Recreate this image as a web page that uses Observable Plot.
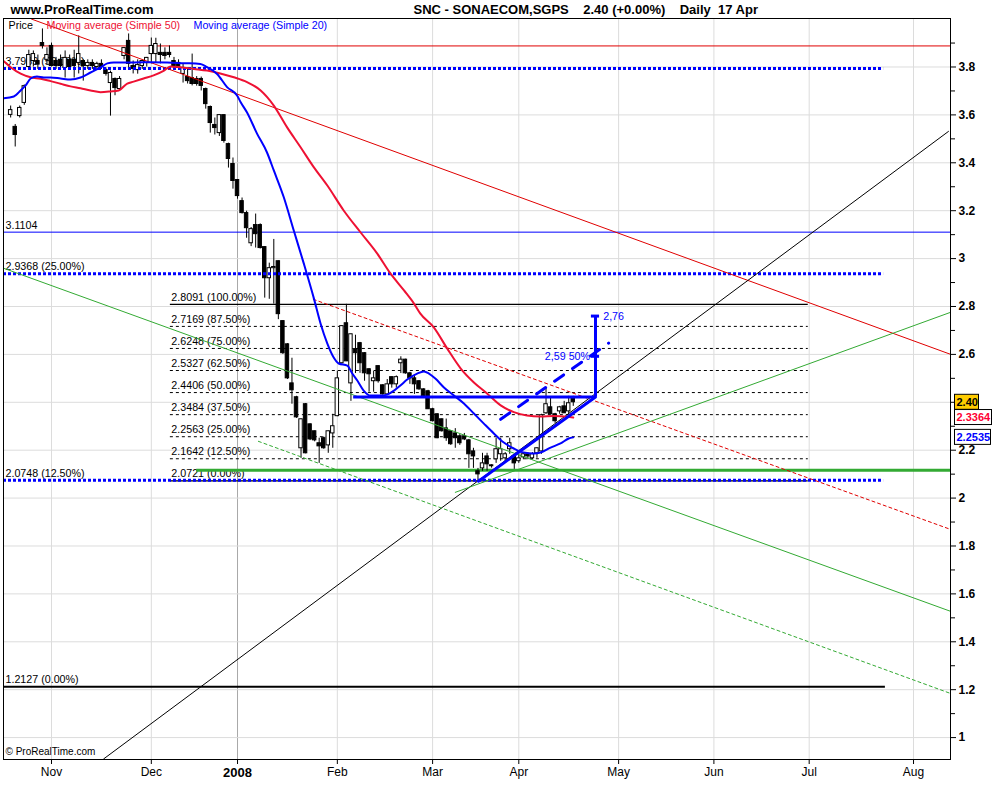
<!DOCTYPE html>
<html><head><meta charset="utf-8">
<script src="https://cdn.jsdelivr.net/npm/d3@7"></script>
<script src="https://cdn.jsdelivr.net/npm/@observablehq/plot@0.6"></script>
<style>html,body{margin:0;padding:0;background:#fff;overflow:hidden}#chart svg{display:block}</style>
</head><body><div id="chart"></div>
<script>
// x = trading-day index (0 = 1 Nov 2007)
const monthTickIdx = [0, 22, 41, 63, 84, 103, 125, 146, 167, 190];
const monthTickLabels = ["Nov", "Dec", "2008", "Feb", "Mar", "Apr", "May", "Jun", "Jul", "Aug"];
const priceTicks = [1, 1.2, 1.4, 1.6, 1.8, 2, 2.2, 2.4, 2.6, 2.8, 3, 3.2, 3.4, 3.6, 3.8];
const priceTickLabels = ["1", "1.2", "1.4", "1.6", "1.8", "2", "2.2", "", "2.6", "2.8", "3", "3.2", "3.4", "3.6", "3.8"];
const priceMinorTicks = [1.1, 1.3, 1.5, 1.7, 1.9, 2.1, 2.3, 2.5, 2.7, 2.9, 3.1, 3.3, 3.5, 3.7, 3.9];

// [day index, open, high, low, close]
const candles = [
[-9,3.600,3.637,3.587,3.620],[-8,3.550,3.560,3.466,3.516],[-7,3.595,3.637,3.587,3.629],
[-6,3.650,3.725,3.640,3.720],[-5,3.800,3.870,3.790,3.850],[-4,3.825,3.867,3.800,3.854],
[-3,3.825,3.850,3.790,3.810],[-2,3.900,3.959,3.875,3.888],[-1,3.830,3.880,3.810,3.850],
[0,3.888,3.900,3.800,3.804],[1,3.825,3.840,3.790,3.804],[2,3.830,3.850,3.795,3.804],
[3,3.796,3.867,3.754,3.838],[4,3.830,3.850,3.790,3.800],[5,3.830,3.870,3.754,3.804],
[6,3.817,3.930,3.771,3.854],[7,3.825,3.830,3.741,3.804],[8,3.804,3.830,3.790,3.817],
[9,3.817,3.830,3.790,3.804],[10,3.800,3.820,3.790,3.813],[11,3.813,3.830,3.790,3.800],
[12,3.787,3.796,3.762,3.771],[13,3.733,3.783,3.595,3.775],[14,3.750,3.754,3.680,3.712],
[15,3.708,3.760,3.700,3.750],[16,3.846,3.880,3.830,3.879],[17,3.909,3.938,3.792,3.813],
[18,3.804,3.825,3.771,3.792],[19,3.787,3.830,3.770,3.808],[20,3.804,3.830,3.790,3.825],
[21,3.817,3.840,3.800,3.838],[22,3.854,3.921,3.813,3.888],[23,3.854,3.920,3.817,3.896],
[24,3.859,3.896,3.813,3.850],[25,3.859,3.880,3.830,3.846],[26,3.859,3.888,3.838,3.850],
[27,3.825,3.840,3.800,3.804],[28,3.817,3.830,3.790,3.796],[29,3.771,3.813,3.733,3.796],
[30,3.758,3.796,3.729,3.741],[31,3.754,3.854,3.721,3.729],[32,3.750,3.760,3.720,3.729],
[33,3.750,3.758,3.700,3.721],[34,3.708,3.712,3.624,3.645],[35,3.633,3.637,3.524,3.566],
[36,3.558,3.587,3.516,3.545],[37,3.524,3.600,3.510,3.599],[38,3.599,3.600,3.482,3.491],
[39,3.478,3.482,3.378,3.416],[40,3.395,3.420,3.290,3.324],[41,3.328,3.328,3.248,3.261],
[42,3.240,3.253,3.186,3.190],[43,3.190,3.198,3.085,3.127],[44,3.064,3.130,3.050,3.123],
[45,3.140,3.186,3.044,3.102],[46,3.140,3.145,3.040,3.044],[47,3.048,3.050,2.835,2.918],
[48,2.918,2.981,2.830,2.960],[49,2.960,3.080,2.810,2.965],[50,2.989,2.990,2.745,2.768],
[51,2.739,2.740,2.600,2.605],[52,2.642,2.645,2.495,2.500],[53,2.479,2.584,2.392,2.450],
[54,2.421,2.425,2.333,2.337],[55,2.208,2.330,2.166,2.329],[56,2.392,2.395,2.185,2.187],
[57,2.308,2.310,2.240,2.245],[58,2.279,2.280,2.235,2.241],[59,2.229,2.250,2.145,2.216],
[60,2.250,2.255,2.204,2.208],[61,2.220,2.280,2.187,2.279],[62,2.270,2.350,2.208,2.300],
[63,2.342,2.530,2.340,2.500],[64,2.563,2.720,2.560,2.718],[65,2.730,2.8091,2.570,2.571],
[66,2.479,2.684,2.404,2.684],[67,2.622,2.680,2.520,2.605],[68,2.647,2.650,2.521,2.563],
[69,2.605,2.607,2.488,2.521],[70,2.538,2.540,2.442,2.517],[71,2.488,2.530,2.442,2.500],
[72,2.551,2.552,2.480,2.488],[73,2.471,2.473,2.430,2.433],[74,2.433,2.495,2.430,2.475],
[75,2.505,2.505,2.459,2.475],[76,2.475,2.510,2.459,2.505],[77,2.563,2.590,2.520,2.578],
[78,2.578,2.580,2.517,2.521],[79,2.521,2.525,2.475,2.500],[80,2.500,2.515,2.433,2.475],
[81,2.488,2.490,2.450,2.454],[82,2.454,2.456,2.420,2.425],[83,2.446,2.450,2.370,2.371],
[84,2.371,2.375,2.318,2.321],[85,2.350,2.352,2.248,2.250],[86,2.329,2.330,2.276,2.279],
[87,2.291,2.330,2.237,2.250],[88,2.279,2.280,2.220,2.225],[89,2.270,2.290,2.208,2.250],
[90,2.258,2.265,2.220,2.229],[91,2.258,2.270,2.240,2.245],[92,2.241,2.245,2.124,2.183],
[93,2.195,2.208,2.124,2.174],[94,2.112,2.124,2.0721,2.099],[95,2.124,2.187,2.112,2.145],
[96,2.174,2.187,2.112,2.141],[97,2.133,2.140,2.125,2.137],[98,2.162,2.250,2.145,2.204],
[99,2.183,2.250,2.154,2.204],[100,2.166,2.190,2.150,2.183],[101,2.204,2.250,2.183,2.229],
[102,2.174,2.175,2.120,2.145],[103,2.154,2.183,2.145,2.166],[104,2.170,2.190,2.160,2.183],
[105,2.183,2.190,2.160,2.174],[106,2.166,2.190,2.160,2.183],[107,2.187,2.210,2.166,2.208],
[108,2.195,2.350,2.183,2.346],[109,2.354,2.459,2.350,2.392],[110,2.379,2.420,2.350,2.350],
[111,2.350,2.354,2.312,2.321],[112,2.362,2.383,2.350,2.379],[113,2.383,2.404,2.354,2.354],
[114,2.362,2.425,2.350,2.396],[115,2.421,2.425,2.383,2.400]
];

// moving averages: [day index, value]
const ma20 = [
[-10.5,3.670],[-8.3,3.677],[-6.8,3.702],[-5.7,3.723],[-4.6,3.752],[-3.2,3.760],[-1.7,3.756],
[-0.2,3.756],[2.0,3.752],[4.2,3.748],[6.4,3.756],[8.6,3.777],[10.8,3.798],[12.3,3.815],
[13.7,3.819],[18.1,3.819],[21.8,3.820],[25.5,3.819],[29.2,3.816],[32.8,3.813],[34.3,3.799],
[36.5,3.771],[38.7,3.716],[40.9,3.681],[41.7,3.653],[43.1,3.610],[45.3,3.522],[47.5,3.443],
[49.0,3.368],[51.2,3.256],[53.4,3.117],[55.6,2.980],[57.8,2.836],[59.3,2.729],[60.8,2.645],
[62.2,2.587],[63.3,2.562],[65.2,2.553],[66.3,2.520],[67.4,2.491],[68.8,2.449],[70.3,2.428],
[72.5,2.428],[74.0,2.432],[75.5,2.449],[76.9,2.470],[78.4,2.495],[80.6,2.520],[82.1,2.529],
[83.2,2.520],[84.6,2.499],[86.5,2.462],[88.7,2.428],[90.9,2.395],[93.1,2.353],[95.3,2.311],
[97.5,2.270],[99.7,2.232],[101.9,2.207],[104.1,2.190],[106.3,2.186],[107.8,2.190],[110.0,2.211],
[112.2,2.228],[114.0,2.249],[115.0,2.2535]
];
const ma50 = [
[-10.5,3.824],[-9.0,3.799],[-6.8,3.772],[-4.6,3.757],[-2.4,3.751],[-0.2,3.741],[2.0,3.730],
[4.2,3.719],[6.4,3.711],[8.6,3.702],[10.8,3.695],[13.0,3.698],[14.8,3.702],[16.7,3.731],
[18.1,3.739],[20.3,3.752],[22.5,3.765],[24.8,3.785],[26.2,3.802],[28.4,3.799],[31.4,3.792],
[34.3,3.785],[37.2,3.773],[40.2,3.757],[43.1,3.737],[46.1,3.702],[49.0,3.639],[51.9,3.549],
[54.9,3.465],[57.8,3.382],[60.8,3.305],[64.4,3.201],[68.1,3.110],[71.8,3.021],[74.7,2.938],
[77.7,2.867],[79.9,2.812],[81.3,2.770],[84.3,2.712],[87.2,2.625],[90.2,2.541],[93.1,2.483],
[96.0,2.437],[99.0,2.387],[101.9,2.359],[104.8,2.345],[107.8,2.341],[110.7,2.343],[113.7,2.340],
[115.0,2.3364]
];

// Fibonacci retracement
const fibLevels = [2.8091, 2.7169, 2.6248, 2.5327, 2.4406, 2.3484, 2.2563, 2.1642, 2.0721];
const fibLabels = ["2.8091 (100.00%)", "2.7169 (87.50%)", "2.6248 (75.00%)", "2.5327 (62.50%)", "2.4406 (50.00%)", "2.3484 (37.50%)", "2.2563 (25.00%)", "2.1642 (12.50%)", "2.0721 (0.00%)"];
const fibSpan = [26.2, 166.8];

// long-term levels on the left
const dottedLevels = [3.7939, 2.9368, 2.0748];
const dottedLabels = ["3.7939 (50.00%)", "2.9368 (25.00%)", "2.0748 (12.50%)"];
const blueLevel = [3.1104];
const blueLevelLabel = ["3.1104"];
const redLevel = [3.888];
const blackLevel = [1.2127];
const blackLevelLabel = ["1.2127 (0.00%)"];
const greenLevel = [2.116];

// trend lines [day index, price]
const redTrend = [[-4.4, 4.0], [198.2, 2.60]];
const redDashed = [[57.7, 2.830], [198.2, 1.869]];
const blackTrend = [[11.5, 0.911], [197.7, 3.531]];
const greenTrend = [[-10.6, 2.960], [198.2, 1.527]];
const greenDashed = [[45.6, 2.237], [198.2, 1.184]];
const greenRise = [[89.0, 2.024], [198.2, 2.776]];

// pattern projection
const neckline = [2.422];
const necklineSpan = [66.6, 119.9];
const wedgeLine = [[94.1, 2.0705], [119.9, 2.422]];
const targetIdx = [119.9];
const targetRange = [2.422, 2.76];
const targetMarks = [2.76, 2.592];
const targetLabels = ["2,76", "2,59 50%"];
const channelDash = [[99.0, 2.329], [122.8, 2.647]];

const lastValues = [2.40, 2.3364, 2.2535];
const lastLabels = ["2.40", "2.3364", "2.2535"];

const C = candles.map(([i, o, h, l, c]) => ({i, o, h, l, c}));
const up = C.filter(d => d.c >= d.o);
const down = C.filter(d => d.c < d.o);
const fib = fibLevels.map((v, k) => ({v, label: fibLabels[k], solid: k === 0 || k === fibLevels.length - 1}));
const dotted = dottedLevels.map((v, k) => ({v, label: dottedLabels[k]}));
const months = monthTickIdx.map((i, k) => ({i, label: monthTickLabels[k]}));
const tickLabelOf = new Map(priceTicks.map((t, k) => [t, priceTickLabels[k]]));

const BLUE = "#0000ff", RED = "#ee1133", GREEN = "#33aa33";
const FONT = "'Liberation Sans', Arial, sans-serif";
const NARROW = "'Liberation Sans Narrow', 'Liberation Sans', Arial, sans-serif";
const P = d => d[0], V = d => d[1];

const chart = Plot.plot({
  width: 1000, height: 800,
  marginLeft: 3, marginRight: 50, marginTop: 18, marginBottom: 41,
  x: {domain: [-10.58, 198.15], axis: null},
  y: {domain: [0.9085, 4.0025], axis: null},
  style: {fontFamily: FONT, fontSize: "11px", background: "#fff", overflow: "visible"},
  marks: [
    // grid
    Plot.ruleX(months.filter(d => d.label !== "2008"), {x: "i", stroke: "#dcdcdc"}),
    Plot.ruleX(months.filter(d => d.label === "2008"), {x: "i", stroke: "#a8a8a8"}),
    Plot.ruleY(priceTicks, {stroke: "#dcdcdc"}),
    // fib levels
    Plot.ruleY(fib.filter(d => !d.solid), {y: "v", x1: fibSpan[0], x2: fibSpan[1], stroke: "#000", strokeDasharray: "3,3"}),
    Plot.ruleY(fib.filter(d => d.solid), {y: "v", x1: fibSpan[0], x2: fibSpan[1], stroke: "#000", strokeWidth: 1.2}),
    Plot.text(fib, {x: fibSpan[0], y: "v", text: "label", textAnchor: "start", dx: 1, dy: -7, fill: "#000", fontSize: 10.7}),
    // left labels
    Plot.text(dotted, {y: "v", text: "label", frameAnchor: "left", textAnchor: "start", dx: 2, dy: -7, fill: "#000", fontSize: 10.7}),
    Plot.text(blueLevel, {y: d => d, text: blueLevelLabel, frameAnchor: "left", textAnchor: "start", dx: 2, dy: -7, fill: "#000", fontSize: 10.7}),
    Plot.text(blackLevel, {y: d => d, text: blackLevelLabel, frameAnchor: "left", textAnchor: "start", dx: 2, dy: -7, fill: "#000", fontSize: 10.7}),
    // horizontal levels
    Plot.ruleY(redLevel, {stroke: "#e00000", strokeWidth: 1}),
    Plot.ruleY(blueLevel, {stroke: BLUE, strokeWidth: 1}),
    Plot.ruleY(greenLevel, {x1: 32.0, x2: 198.15, stroke: GREEN, strokeWidth: 3}),
    Plot.ruleY(blackLevel, {x1: -10.58, x2: 183.8, stroke: "#000", strokeWidth: 2}),
    // candles
    Plot.ruleX(C, {x: "i", y1: "l", y2: "h", stroke: "#000", strokeWidth: 1}),
    Plot.rect(down, {x1: d => d.i - 0.38, x2: d => d.i + 0.38, y1: "o", y2: "c", fill: "#000", stroke: "#000"}),
    Plot.rect(up, {x1: d => d.i - 0.38, x2: d => d.i + 0.38, y1: "o", y2: "c", fill: "#fff", stroke: "#000"}),
    // dotted blue levels
    Plot.ruleY(dotted, {y: "v", x1: -10.58, x2: 183.4, stroke: BLUE, strokeWidth: 3, strokeDasharray: "3,2"}),
    // trend lines
    Plot.line(redTrend, {x: P, y: V, stroke: "#e00000", strokeWidth: 1, clip: true}),
    Plot.line(redDashed, {x: P, y: V, stroke: "#e00000", strokeWidth: 1, strokeDasharray: "3,3", clip: true}),
    Plot.line(blackTrend, {x: P, y: V, stroke: "#000", strokeWidth: 1, clip: true}),
    Plot.line(greenTrend, {x: P, y: V, stroke: GREEN, strokeWidth: 1, clip: true}),
    Plot.line(greenDashed, {x: P, y: V, stroke: GREEN, strokeWidth: 1, strokeDasharray: "3,3", clip: true}),
    Plot.line(greenRise, {x: P, y: V, stroke: GREEN, strokeWidth: 1, clip: true}),
    // moving averages
    Plot.line(ma50, {x: P, y: V, stroke: RED, strokeWidth: 2, curve: "monotone-x", clip: true}),
    Plot.line(ma20, {x: P, y: V, stroke: BLUE, strokeWidth: 2, curve: "monotone-x", clip: true}),
    // pattern drawing
    Plot.ruleY(neckline, {x1: necklineSpan[0], x2: necklineSpan[1], stroke: BLUE, strokeWidth: 3}),
    Plot.line(wedgeLine, {x: P, y: V, stroke: BLUE, strokeWidth: 3}),
    Plot.ruleX(targetIdx, {y1: targetRange[0], y2: targetRange[1], stroke: BLUE, strokeWidth: 3}),
    Plot.ruleY(targetMarks, {x1: 119.0, x2: 120.8, stroke: BLUE, strokeWidth: 3}),
    Plot.text([targetMarks[0]], {x: 121.6, y: d => d, text: [targetLabels[0]], textAnchor: "start", fill: BLUE, fontSize: 10.7}),
    Plot.text([targetMarks[1]], {x: 118.7, y: d => d, text: [targetLabels[1]], textAnchor: "end", fill: BLUE, fontSize: 10.7}),
    Plot.line(channelDash, {x: P, y: V, stroke: BLUE, strokeWidth: 3, strokeDasharray: "11,11"}),
    // frame & axes
    Plot.frame({stroke: "#000"}),
    Plot.axisY({anchor: "right", ticks: priceMinorTicks, tickSize: 4, tickFormat: () => "", label: null}),
    Plot.axisY({anchor: "right", ticks: priceTicks, tickSize: 5, tickPadding: 3, tickFormat: d => tickLabelOf.get(d) ?? "", fontWeight: "bold", fontSize: 12, label: null}),
    Plot.axisX({anchor: "bottom", ticks: monthTickIdx, tickSize: 5, tickFormat: () => "", label: null}),
    Plot.text(months.filter(d => d.label !== "2008"), {x: "i", text: "label", frameAnchor: "bottom", lineAnchor: "middle", dy: 13, fontSize: 12, fontFamily: NARROW, fill: "#000"}),
    Plot.text(months.filter(d => d.label === "2008"), {x: "i", text: "label", frameAnchor: "bottom", lineAnchor: "middle", dy: 13, fontSize: 13, fontWeight: "bold", fontFamily: NARROW, fill: "#000"}),
    // titles and legend
    Plot.text(["www.ProRealTime.com"], {text: d => d, frameAnchor: "top-left", lineAnchor: "middle", dx: 7, dy: -9, fontSize: 13, fontWeight: "bold", fill: "#000"}),
    Plot.text(["SNC - SONAECOM,SGPS\u00a0\u00a0\u00a0\u00a02.40 (+0.00%)\u00a0\u00a0\u00a0\u00a0Daily\u00a0\u00a017 Apr"], {text: d => d, frameAnchor: "top-left", lineAnchor: "middle", textAnchor: "start", dx: 410, dy: -9, fontSize: 13, fontWeight: "bold", fill: "#000"}),
    Plot.text(["Price"], {text: d => d, frameAnchor: "top-left", lineAnchor: "middle", dx: 5, dy: 7, fill: "#000", fontSize: 10.7}),
    Plot.text(["Moving average (Simple 50)"], {text: d => d, frameAnchor: "top-left", lineAnchor: "middle", dx: 43, dy: 7, fill: RED, fontSize: 10.7}),
    Plot.text(["Moving average (Simple 20)"], {text: d => d, frameAnchor: "top-left", lineAnchor: "middle", dx: 190, dy: 7, fill: BLUE, fontSize: 10.7}),
    Plot.text(["\u00a9 ProRealTime.com"], {text: d => d, frameAnchor: "bottom-left", lineAnchor: "middle", dx: 2, dy: -8, fill: "#000", fontSize: 10, fontFamily: NARROW})
  ]
});
document.getElementById("chart").appendChild(chart);

// last-value boxes on the right axis
const sy = chart.scale("y");
const boxStyle = [
  {fill: "#ffcc00", color: "#000", w: 24},
  {fill: "#fff", color: "#ff0033", w: 37},
  {fill: "#fff", color: BLUE, w: 36}
];
const g = d3.select(chart).append("g")
  .attr("font-family", FONT).attr("font-weight", "bold").attr("font-size", 11).attr("text-anchor", "start");
lastValues.forEach((v, k) => {
  const cy = sy.apply(v), s = boxStyle[k];
  g.append("rect").attr("x", 954.5).attr("y", cy - 7.5).attr("width", s.w).attr("height", 15)
    .attr("fill", s.fill).attr("stroke", "#000").attr("stroke-width", 1);
  g.append("text").attr("x", 956.5).attr("y", cy).attr("dy", "0.36em").attr("text-anchor", "start")
    .attr("fill", s.color).text(lastLabels[k]);
});
</script></body></html>
